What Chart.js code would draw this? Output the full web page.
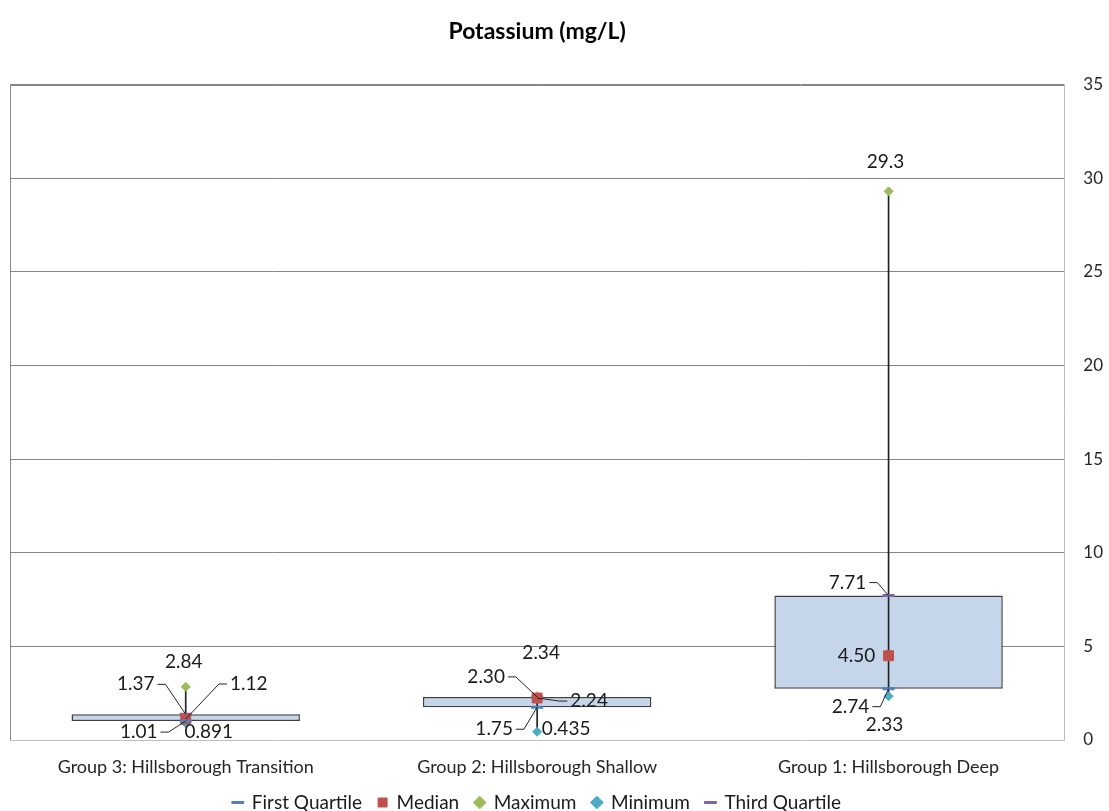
<!DOCTYPE html>
<html>
<head>
<meta charset="utf-8">
<script src="https://cdn.jsdelivr.net/npm/chart.js@4.4.1/dist/chart.umd.min.js"></script>
<style>
  body { margin: 0; background: #fff; }
</style>
</head>
<body>
<canvas id="boxChart" width="1109" height="811"></canvas>
<script>
// Potassium box plot (Excel style: floating box + whisker + markers)
const groups = ['Group 3: Hillsborough Transition', 'Group 2: Hillsborough Shallow', 'Group 1: Hillsborough Deep'];
const firstQuartile = [1.01, 1.75, 2.74];
const median = [1.12, 2.24, 4.50];
const maximum = [2.84, 2.34, 29.3];
const minimum = [0.891, 0.435, 2.33];
const thirdQuartile = [1.37, 2.30, 7.71];
const yTicks = [0, 5, 10, 15, 20, 25, 30, 35];

// label text per point (as printed on the chart)
const labelText = {
    q1: ['1.01', '1.75', '2.74'],
    med: ['1.12', '2.24', '4.50'],
    max: ['2.84', '2.34', '29.3'],
    min: ['0.891', '0.435', '2.33'],
    q3: ['1.37', '2.30', '7.71']
};
// label placement relative to its point: [dx, dy, leader side]
const labelOffset = {
    q1: [[-47, 11, 'r'], [-43, 22, 'r'], [-38, 18, 'r']],
    med: [[63, -35, 'l'], [52, 3, 'l'], [-32, 0, '']],
    max: [[-2, -25, ''], [4, -43, ''], [-3, -29, '']],
    min: [[23, 9, ''], [29, -3, ''], [-4, 29, '']],
    q3: [[-50, -30, 'r'], [-51, -20, 'r'], [-41, -13, 'r']]
};

const FONT = 'Lato, "Open Sans", sans-serif';
const GRID = '#868686';
const AXIS = '#BFBFBF';

// left + top edges of the plot area
const frame = {
    id: 'frame',
    beforeDatasetsDraw(chart) {
        const a = chart.chartArea, ctx = chart.ctx;
        const l = Math.round(a.left) + 0.5, t = Math.round(a.top) + 0.5;
        ctx.save();
        ctx.strokeStyle = GRID;
        ctx.lineWidth = 1;
        ctx.beginPath();
        ctx.moveTo(l, Math.round(a.bottom));
        ctx.lineTo(l, t);
        ctx.lineTo(Math.round(a.right), t);
        ctx.stroke();
        ctx.restore();
    }
};

const pointLabels = {
    id: 'pointLabels',
    afterDatasetsDraw(chart) {
        const ctx = chart.ctx;
        ctx.save();
        ctx.font = '19px ' + FONT;
        ctx.textAlign = 'center';
        ctx.textBaseline = 'middle';
        chart.data.datasets.forEach((ds, i) => {
            if (!ds.key) return;
            const meta = chart.getDatasetMeta(i);
            meta.data.forEach((pt, j) => {
                const off = labelOffset[ds.key][j];
                const txt = labelText[ds.key][j];
                const lx = pt.x + off[0], ly = pt.y + off[1];
                ctx.fillStyle = '#1a1a1a';
                ctx.fillText(txt, lx, ly);
                if (off[2]) {
                    const w = ctx.measureText(txt).width / 2 + 3;
                    const sx = off[2] === 'r' ? lx + w : lx - w;
                    const bx = off[2] === 'r' ? sx + 8 : sx - 8;
                    ctx.strokeStyle = '#222';
                    ctx.lineWidth = 1;
                    ctx.beginPath();
                    ctx.moveTo(sx, ly);
                    ctx.lineTo(bx, ly);
                    ctx.lineTo(pt.x, pt.y);
                    ctx.stroke();
                }
            });
        });
        ctx.restore();
    }
};

function marker(label, key, data, style, color, radius, width) {
    return {
        type: 'line', label: label, key: key, data: data, order: 0,
        showLine: false, pointStyle: style, pointRadius: radius, pointHoverRadius: radius,
        pointBackgroundColor: color, pointBorderColor: color, pointBorderWidth: width,
        backgroundColor: color, borderColor: color
    };
}

new Chart(document.getElementById('boxChart'), {
    type: 'bar',
    data: {
        labels: groups,
        datasets: [
            marker('First Quartile', 'q1', firstQuartile, 'line', '#4F81BD', 6, 3),
            marker('Median', 'med', median, 'rect', '#C0504D', 7, 1),
            marker('Maximum', 'max', maximum, 'rectRot', '#9BBB59', 4.5, 1),
            marker('Minimum', 'min', minimum, 'rectRot', '#4BACC6', 4.5, 1),
            marker('Third Quartile', 'q3', thirdQuartile, 'line', '#8064A2', 6, 3),
            {
                label: 'whisker', order: 1, grouped: false,
                data: minimum.map((v, i) => [v, maximum[i]]),
                backgroundColor: '#222', barThickness: 1, borderWidth: 0
            },
            {
                label: 'box', order: 2, grouped: false,
                data: firstQuartile.map((v, i) => [v, thirdQuartile[i]]),
                backgroundColor: '#C6D6EA', borderColor: '#404040', borderWidth: 1.5,
                borderSkipped: false, barPercentage: 0.65, categoryPercentage: 1
            }
        ]
    },
    options: {
        responsive: false,
        animation: false,
        devicePixelRatio: 1,
        layout: { padding: { left: 10, right: -13, top: 0, bottom: 0 } },
        plugins: {
            title: {
                display: true, text: 'Potassium (mg/L)', fullSize: false,
                color: '#000', font: { family: FONT, size: 23, weight: 'bold' },
                padding: { top: 18, bottom: 39 }
            },
            legend: {
                position: 'bottom', fullSize: false, maxHeight: 34,
                labels: {
                    usePointStyle: true, color: '#1a1a1a', padding: 16,
                    boxWidth: 9, boxHeight: 9,
                    font: { family: FONT, size: 19 },
                    filter: item => item.text !== 'whisker' && item.text !== 'box'
                }
            },
            tooltip: { enabled: false }
        },
        scales: {
            x: {
                grid: { display: false },
                border: { display: true, color: AXIS },
                ticks: { color: '#262626', padding: 8, font: { family: FONT, size: 18 } },
                afterFit: axis => { axis.height = 37; }
            },
            y: {
                position: 'right', min: 0, max: 35,
                afterBuildTicks: axis => { axis.ticks = yTicks.map(v => ({ value: v })); },
                grid: { color: c => c.tick && c.tick.value === 0 ? 'rgba(0,0,0,0)' : GRID, drawTicks: false },
                border: { color: AXIS },
                ticks: { color: '#262626', padding: 19, font: { family: FONT, size: 17 } }
            }
        }
    },
    plugins: [frame, pointLabels]
});
</script>
</body>
</html>
